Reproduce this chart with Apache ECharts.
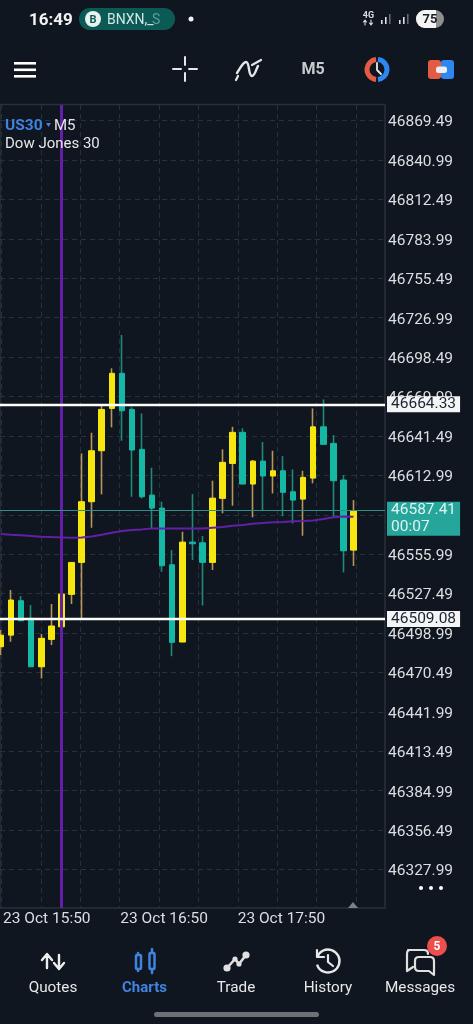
<!DOCTYPE html>
<html lang="en">
<head>
    <meta charset="UTF-8">
    <title>US30 M5</title>
    <script src="https://cdn.jsdelivr.net/npm/echarts@6/dist/echarts.min.js"></script>
    <style>
        html, body { margin: 0; padding: 0; background: #10161f; }
        #main { width: 473px; height: 1024px; }
    </style>
</head>
<body>
    <div id="main"></div>
    <script>
        const candleTimes = ['15:50', '15:55', '16:00', '16:05', '16:10', '16:15', '16:20', '16:25', '16:30', '16:35',
            '16:40', '16:45', '16:50', '16:55', '17:00', '17:05', '17:10', '17:15', '17:20', '17:25',
            '17:30', '17:35', '17:40', '17:45', '17:50', '17:55', '18:00', '18:05', '18:10', '18:15',
            '18:20', '18:25', '18:30', '18:35', '18:40', '18:45', '18:50', '18:55', '19:00']
        const opens = [46489.2, 46497.6, 46522.5, 46509.7, 46474.7, 46494.5, 46503.6, 46527.1, 46550.2, 46594.1,
            46631.0, 46661.6, 46687.0, 46660.9, 46632.0, 46598.9, 46589.5, 46548.5, 46492.6, 46564.9,
            46564.4, 46550.2, 46596.5, 46621.8, 46644.3, 46606.9, 46623.5, 46612.7, 46616.5, 46601.3,
            46596.0, 46611.2, 46648.3, 46636.3, 46609.8, 46559.1]
        const closes = [46497.6, 46523.0, 46508.0, 46474.7, 46495.3, 46504.2, 46527.3, 46550.2, 46594.1, 46631.0,
            46660.9, 46687.0, 46659.9, 46631.5, 46597.7, 46589.5, 46547.8, 46492.4, 46564.9, 46563.7,
            46550.2, 46596.7, 46622.6, 46644.3, 46606.9, 46623.5, 46612.7, 46616.5, 46600.9, 46595.3,
            46611.7, 46648.3, 46635.6, 46609.3, 46558.6, 46587.41]
        const lows = [46483.2, 46492.8, 46508.0, 46474.7, 46466.3, 46490.4, 46500.5, 46520.1, 46508.5, 46575.3,
            46599.4, 46647.9, 46638.2, 46597.7, 46596.5, 46574.8, 46543.4, 46482.4, 46492.6, 46551.9,
            46519.1, 46544.7, 46585.7, 46591.2, 46606.9, 46582.8, 46587.6, 46600.1, 46583.7, 46578.4,
            46569.5, 46607.4, 46635.6, 46582.8, 46543.0, 46547.6]
        const highs = [46501.3, 46530.2, 46525.9, 46519.3, 46498.4, 46520.1, 46536.2, 46550.2, 46629.1, 46644.0,
            46663.3, 46690.6, 46714.7, 46662.4, 46658.0, 46618.7, 46594.1, 46559.1, 46572.4, 46599.6,
            46569.3, 46609.3, 46632.0, 46648.3, 46647.2, 46624.2, 46637.3, 46631.0, 46627.1, 46617.5,
            46616.5, 46661.6, 46668.1, 46642.3, 46613.4, 46595.3]
        const maValues = [46570.7, 46570.2, 46569.8, 46569.3, 46568.8, 46568.5, 46568.3, 46568.0, 46568.3, 46569.0,
            46570.2, 46571.6, 46572.9, 46573.6, 46574.1, 46574.8, 46574.8, 46574.8, 46574.8, 46574.8,
            46574.8, 46575.3, 46575.8, 46576.7, 46577.2, 46578.2, 46578.7, 46579.2, 46579.4, 46579.9,
            46580.1, 46580.6, 46581.6, 46582.8, 46583.5, 46583.2]
        const gridTimes = ['23 Oct 15:50', '23 Oct 16:10', '23 Oct 16:30', '23 Oct 16:50', '23 Oct 17:10',
            '23 Oct 17:30', '23 Oct 17:50', '23 Oct 18:10', '23 Oct 18:30', '23 Oct 18:50']
        const priceTicks = [46869.49, 46840.99, 46812.49, 46783.99, 46755.49, 46726.99, 46698.49, 46669.99, 46641.49,
            46612.99, 46584.49, 46555.99, 46527.49, 46498.99, 46470.49, 46441.99, 46413.49, 46384.99, 46356.49, 46327.99]
        const levels = [46664.33, 46509.08]
        const lastPrice = 46587.41
        const lastPriceTag = 46581.57
        const countdown = '00:07'
        const markedTime = '16:20'
        const yMin = 46300.2
        const yMax = 46881.1

        const BG = '#10161f'
        const GRID = '#27313c'
        const TEXT = '#dcdfe2'
        const BLUE = '#3f83e0'
        const YELLOW = '#f7e60e'
        const TEAL = '#14b8a4'
        const PURPLE = '#641fa8'
        const FONT = 'Roboto'

        let pathCount = 0

        function text (x, y, str, fill, font, align) {
            return { type: 'text', z: 50, style: { x, y, text: str, fill, font, align: align || 'left', verticalAlign: 'middle' } }
        }
        // the graphic component has no plain path type, so each icon outline gets its own shape
        function path (d, stroke, lineWidth, fill) {
            const name = `icon${pathCount++}`
            echarts.graphic.registerShape(name, echarts.graphic.extendPath(d, {}))
            return { type: name, z: 50, style: { stroke: stroke || null, lineWidth: lineWidth || 1, fill: fill || null, lineCap: 'round', lineJoin: 'round' } }
        }
        function rect (x, y, width, height, fill, r) {
            return { type: 'rect', z: 50, shape: { x, y, width, height, r: r || 0 }, style: { fill } }
        }
        function circle (cx, cy, r, fill) {
            return { type: 'circle', z: 50, shape: { cx, cy, r }, style: { fill } }
        }
        function arc (cx, cy, r, startAngle, endAngle, stroke, lineWidth) {
            return { type: 'arc', z: 50, shape: { cx, cy, r, startAngle, endAngle }, style: { stroke, lineWidth, fill: null } }
        }

        // status bar, toolbar and bottom tabs are not part of the chart itself
        const chrome = [
            text(29, 20.5, '16:49', '#f2f2f2', `bold 17px ${FONT}`),
            rect(79, 8, 96, 22, '#0c5a55', 11),
            circle(93, 19, 8, '#e8f2f1'),
            text(93, 20, 'B', '#0c5a55', `bold 11px ${FONT}`, 'center'),
            text(107, 20.5, 'BNXN,_', '#d2e6e4', `14px ${FONT}`),
            text(152, 20.5, 'S', '#5f9c97', `14px ${FONT}`),
            circle(191, 19, 2.5, '#f2f2f2'),
            text(368.5, 15.5, '4G', '#dddddd', `bold 9px ${FONT}`, 'center'),
            path('M365 25 V20 M363.5 22 L365 20 L366.5 22 M371 20 V25 M369.5 23 L371 25 L372.5 23', '#dddddd', 1.1),
            rect(381, 20, 1.6, 4, '#e0e0e0'), rect(385, 17, 1.6, 7, '#e0e0e0'), rect(389, 14, 1.6, 10, '#666b70'),
            rect(399, 20, 1.6, 4, '#e0e0e0'), rect(403, 17, 1.6, 7, '#e0e0e0'), rect(407, 14, 1.6, 10, '#666b70'),
            rect(416, 10, 28, 18, '#8f8f8f', 9),
            path('M425 10 H436 V28 H425 A9 9 0 0 1 425 10 Z', null, 1, '#f4f4f4'),
            text(430, 20, '75', '#1a1f26', `bold 13px ${FONT}`, 'center'),

            rect(14, 62, 22, 2.6, '#ffffff'), rect(14, 68.5, 22, 2.6, '#ffffff'), rect(14, 75, 22, 2.6, '#ffffff'),
            path('M173 69 H181 M189 69 H197 M185 57 V65 M185 73 V81', '#e4e6e8', 2),
            path('M237 73 C241 67 243 62 246 62 C250 62 248 76 252 76 C255 76 256 69 258 66', '#e4e6e8', 2.4),
            path('M236 80 L238 76 M252 65 L261 60', '#e4e6e8', 2.2),
            text(313, 70, 'M5', '#c8cbce', `bold 16px 'Liberation Sans Narrow', ${FONT}`, 'center'),
            arc(377, 69.5, 10, Math.PI * 0.53, Math.PI * 1.47, '#e25b45', 5),
            arc(377, 69.5, 10, -Math.PI * 0.47, Math.PI * 0.47, '#2f86ee', 5),
            path('M377 63 V70 L381 74', '#e8e8e8', 1.8),
            rect(428, 60, 13, 19, '#e25b45', 3),
            rect(441, 60, 13, 19, '#2f86ee', 3),
            rect(436, 66.5, 11, 6.5, '#eeeeee', 2.5),

            path('M47 968 V955 M42 960 L47 954 L52 960 M59 955 V968 M54 963 L59 969 L64 963', '#eeeeee', 2.4),
            path('M138 955 V953 M138 971 V969 M152 953 V949 M152 973 V969', BLUE, 2.5),
            { type: 'rect', z: 50, shape: { x: 136, y: 955, width: 5, height: 14, r: 1 }, style: { stroke: BLUE, lineWidth: 2.5, fill: null } },
            { type: 'rect', z: 50, shape: { x: 149.5, y: 953, width: 5, height: 16, r: 1 }, style: { stroke: BLUE, lineWidth: 2.5, fill: null } },
            path('M227 968 L235 959 L239 964 L246 955', '#e0e0e0', 2.6),
            circle(227, 968, 3.6, '#e0e0e0'), circle(235, 959, 2.6, '#e0e0e0'), circle(239, 964, 2.6, '#e0e0e0'), circle(246, 955, 3.6, '#e0e0e0'),
            arc(328, 961, 11.5, -Math.PI * 0.9, Math.PI * 0.9, '#e8e8e8', 2.4),
            path('M317 950 V957 H324 M328 955 V962 L333 966', '#e8e8e8', 2.2),
            path('M408 950 H424 Q428 950 428 954 M413 967 L407 971 V954 Q407 950 410 950 M419 957 H430 Q434 957 434 961 V975 L429 971 H419 Q415 971 415 967 V961 Q415 957 419 957', '#e0e0e0', 2.2),
            circle(437, 946, 10, '#ec4f4d'),
            text(437, 947, '5', '#ffffff', `bold 12px ${FONT}`, 'center'),
            text(53, 988, 'Quotes', '#e6e8ea', `15.3px ${FONT}`, 'center'),
            text(144.5, 988, 'Charts', BLUE, `bold 15px ${FONT}`, 'center'),
            text(236, 988, 'Trade', '#e6e8ea', `15.3px ${FONT}`, 'center'),
            text(328, 988, 'History', '#e6e8ea', `15.3px ${FONT}`, 'center'),
            text(420, 988, 'Messages', '#e6e8ea', `15.3px ${FONT}`, 'center'),
            rect(154, 1012, 165, 5, '#6c7176', 2.5),

            text(5, 126, 'US30', BLUE, `bold 15.5px ${FONT}`),
            path('M46 123 H51 L48.5 127 Z', null, 1, BLUE),
            text(54, 126, 'M5', '#e6e8ea', `15px ${FONT}`),
            text(5, 144.5, 'Dow Jones 30', '#e6e8ea', `15px ${FONT}`),
            circle(421, 888, 2, '#ffffff'), circle(431, 888, 2, '#ffffff'), circle(441, 888, 2, '#ffffff'),
            path('M348 908 L353 902 L358 908 Z', null, 1, '#7c8186')
        ]

        function init () {
            const myChart = echarts.init(document.getElementById('main'))
            const ohlc = opens.map((o, i) => [o, closes[i], lows[i], highs[i]])
            const bodies = opens.map((o, i) => [o, closes[i], Math.min(o, closes[i]), Math.max(o, closes[i])])
            const option = {
                animation: false,
                backgroundColor: BG,
                textStyle: { fontFamily: FONT },
                graphic: chrome,
                grid: [
                    // price pane
                    { left: 0, width: 385, top: 104.5, height: 803.5, show: true, borderColor: GRID, borderWidth: 1.5, backgroundColor: 'transparent' },
                    // candles
                    { left: 1, width: 382.7, top: 105, height: 803 },
                    // vertical grid
                    { left: 1.5, width: 354.6, top: 105, height: 803 },
                    // time labels, nudged left of the grid lines
                    { left: -1, width: 356, top: 105, height: 803 },
                    // price labels, nudged below the grid lines
                    { left: 0, width: 385, top: 106.5, height: 803.5 }
                ],
                xAxis: [
                    { type: 'category', gridIndex: 0, show: false, data: candleTimes },
                    { type: 'category', gridIndex: 1, show: false, boundaryGap: false, data: candleTimes },
                    {
                        type: 'category',
                        gridIndex: 2,
                        boundaryGap: false,
                        data: gridTimes,
                        axisLine: { show: false },
                        axisTick: { show: false },
                        axisLabel: { show: false },
                        splitLine: { show: true, interval: 0, lineStyle: { color: GRID, type: [5, 4], width: 1 } }
                    },
                    {
                        type: 'category',
                        gridIndex: 3,
                        boundaryGap: false,
                        data: gridTimes,
                        axisLine: { show: false },
                        axisTick: { show: false },
                        splitLine: { show: false },
                        axisLabel: {
                            color: TEXT,
                            fontSize: 15.5,
                            fontFamily: FONT,
                            margin: 3,
                            align: 'left',
                            interval: i => i < 9 && i % 3 === 0
                        }
                    },
                    { type: 'category', gridIndex: 4, show: false, data: candleTimes }
                ],
                yAxis: [
                    {
                        type: 'value',
                        gridIndex: 0,
                        position: 'right',
                        min: yMin,
                        max: yMax,
                        axisLine: { show: false },
                        axisTick: { show: false, customValues: priceTicks },
                        axisLabel: { show: false },
                        splitLine: { show: true, lineStyle: { color: GRID, type: [5, 4], width: 1 } }
                    },
                    { type: 'value', gridIndex: 1, show: false, min: yMin, max: yMax, splitLine: { show: false } },
                    { type: 'value', gridIndex: 2, show: false, min: yMin, max: yMax, splitLine: { show: false } },
                    { type: 'value', gridIndex: 3, show: false, min: yMin, max: yMax, splitLine: { show: false } },
                    {
                        type: 'value',
                        gridIndex: 4,
                        position: 'right',
                        min: yMin,
                        max: yMax,
                        axisLine: { show: false },
                        axisTick: { show: false },
                        splitLine: { show: false },
                        axisLabel: {
                            customValues: priceTicks,
                            formatter: v => v.toFixed(2),
                            color: TEXT,
                            fontSize: 15.5,
                            fontFamily: FONT,
                            margin: 3
                        }
                    }
                ],
                series: [
                    {
                        name: 'marked time',
                        type: 'line',
                        xAxisIndex: 1,
                        yAxisIndex: 1,
                        data: [],
                        z: 2,
                        markLine: {
                            silent: true,
                            symbol: 'none',
                            label: { show: false },
                            lineStyle: { color: PURPLE, width: 3, type: 'solid' },
                            data: [{ xAxis: markedTime }]
                        }
                    },
                    {
                        name: 'last price',
                        type: 'line',
                        xAxisIndex: 0,
                        yAxisIndex: 0,
                        data: [],
                        z: 6,
                        markLine: {
                            silent: true,
                            symbol: 'none',
                            data: [
                                {
                                    yAxis: lastPriceTag,
                                    lineStyle: { color: 'transparent', width: 1, type: 'solid' },
                                    label: {
                                        show: true,
                                        position: 'end',
                                        distance: 2,
                                        formatter: `${lastPrice.toFixed(2)}\n${countdown}`,
                                        backgroundColor: '#26a69a',
                                        color: '#dff3f1',
                                        fontSize: 15.5,
                                        fontFamily: FONT,
                                        lineHeight: 17,
                                        align: 'left',
                                        padding: [0, 4]
                                    }
                                }
                            ]
                        }
                    },
                    {
                        name: 'last price line',
                        type: 'line',
                        xAxisIndex: 0,
                        yAxisIndex: 0,
                        data: [],
                        z: 2,
                        markLine: {
                            silent: true,
                            symbol: 'none',
                            label: { show: false },
                            lineStyle: { color: '#2f918a', width: 1.2, type: 'solid' },
                            data: [{ yAxis: lastPrice }]
                        }
                    },
                    {
                        name: 'wicks',
                        type: 'candlestick',
                        xAxisIndex: 1,
                        yAxisIndex: 1,
                        clip: false,
                        barWidth: 1,
                        z: 3,
                        data: ohlc,
                        itemStyle: { color: '#b8955a', color0: '#1e8a7c', borderColor: '#b8955a', borderColor0: '#1e8a7c', borderWidth: 1.6 }
                    },
                    {
                        name: 'US30',
                        type: 'candlestick',
                        xAxisIndex: 1,
                        yAxisIndex: 1,
                        clip: false,
                        barWidth: 6,
                        z: 4,
                        data: bodies,
                        itemStyle: { color: YELLOW, color0: TEAL, borderColor: YELLOW, borderColor0: TEAL, borderWidth: 1 }
                    },
                    {
                        name: 'MA',
                        type: 'line',
                        xAxisIndex: 1,
                        yAxisIndex: 1,
                        clip: false,
                        data: maValues,
                        showSymbol: false,
                        smooth: false,
                        z: 5,
                        lineStyle: { color: PURPLE, width: 2 }
                    },
                    {
                        name: 'levels',
                        type: 'line',
                        xAxisIndex: 0,
                        yAxisIndex: 0,
                        data: [],
                        z: 6,
                        markLine: {
                            silent: true,
                            symbol: 'none',
                            lineStyle: { color: '#ffffff', width: 2.4, type: 'solid' },
                            label: {
                                show: true,
                                position: 'end',
                                distance: 2,
                                formatter: p => p.value.toFixed(2),
                                backgroundColor: '#f4f5f6',
                                color: '#1c2430',
                                fontSize: 15.5,
                                fontFamily: FONT,
                                padding: [0, 4],
                                lineHeight: 16
                            },
                            data: levels.map(v => ({ yAxis: v }))
                        }
                    }
                ]
            }
            myChart.setOption(option)
        }

        init()
    </script>
</body>
</html>
